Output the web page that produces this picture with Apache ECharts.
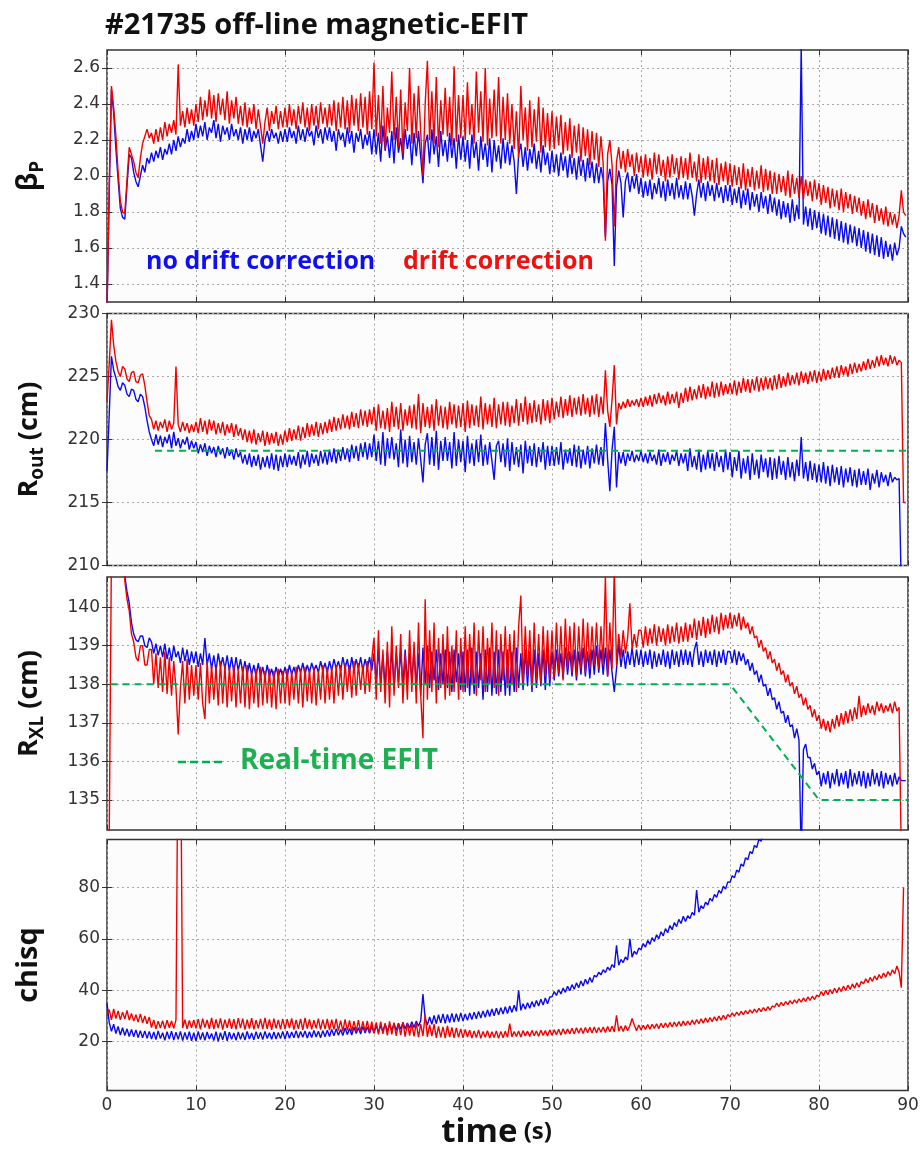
<!DOCTYPE html>
<html><head><meta charset="utf-8">
<script src="https://cdn.jsdelivr.net/npm/echarts@6/dist/echarts.min.js"></script>
<style>html,body{margin:0;padding:0;background:#fff}#c{width:922px;height:1150px}</style>
</head><body><div id="c"></div>
<script>
const dt = 0.25;
const timeTicks = [0, 10, 20, 30, 40, 50, 60, 70, 80, 90];
const bpTicks = [1.4, 1.6, 1.8, 2.0, 2.2, 2.4, 2.6];
const routTicks = [210, 215, 220, 225, 230];
const rxlTicks = [135, 136, 137, 138, 139, 140];
const chiTicks = [20, 40, 60, 80];

// beta_P, no drift correction (blue)
const bpBlue = [
 1.25,1.90,2.48,2.35,2.15,1.98,1.82,1.77,1.76,1.95,2.12,2.10,2.02,1.97,1.94,2.00,2.06,2.02,2.10,2.07,
 2.13,2.08,2.14,2.10,2.16,2.09,2.15,2.12,2.18,2.12,2.20,2.14,2.22,2.16,2.21,2.18,2.26,2.19,2.25,2.20,
 2.29,2.21,2.28,2.22,2.30,2.20,2.27,2.24,2.31,2.21,2.29,2.19,2.28,2.23,2.27,2.20,2.29,2.22,2.26,2.20,
 2.27,2.18,2.26,2.20,2.27,2.19,2.25,2.21,2.26,2.17,2.08,2.20,2.25,2.19,2.26,2.21,2.24,2.18,2.25,2.19,
 2.26,2.19,2.27,2.21,2.25,2.18,2.28,2.20,2.26,2.19,2.27,2.22,2.25,2.17,2.28,2.21,2.26,2.18,2.27,2.20,
 2.27,2.19,2.25,2.14,2.26,2.20,2.24,2.16,2.27,2.18,2.25,2.13,2.24,2.19,2.26,2.15,2.23,2.17,2.25,2.12,
 2.26,2.12,2.24,2.08,2.28,2.14,2.22,2.10,2.25,2.07,2.27,2.13,2.21,2.09,2.26,2.15,2.23,2.06,2.24,2.11,
 2.25,2.10,1.96,2.18,2.23,2.07,2.26,2.12,2.22,2.05,2.25,2.11,2.20,2.08,2.24,2.10,2.21,2.04,2.23,2.09,
 2.22,2.08,2.20,2.04,2.23,2.10,2.19,2.03,2.22,2.09,2.18,2.05,2.21,2.02,2.20,2.08,2.17,2.04,2.21,2.07,
 2.19,2.06,2.17,2.08,1.90,2.12,2.18,2.05,2.16,2.03,2.15,2.07,2.18,2.04,2.14,2.02,2.17,2.06,2.13,2.01,
 2.14,2.02,2.12,2.00,2.13,2.03,2.11,1.99,2.12,2.01,2.10,1.98,2.11,2.00,2.09,1.97,2.10,1.99,2.08,1.96,
 2.07,1.96,2.05,1.98,1.66,1.97,2.04,1.95,1.50,1.94,2.03,1.96,1.77,1.97,2.02,1.91,2.00,1.93,2.01,1.90,
 1.99,1.88,1.97,1.89,1.98,1.87,1.96,1.90,1.99,1.88,1.97,1.86,1.98,1.89,1.96,1.87,1.99,1.88,1.95,1.87,
 1.97,1.87,1.96,1.89,1.78,1.90,1.98,1.88,1.96,1.86,1.97,1.89,1.95,1.86,1.96,1.88,1.94,1.85,1.95,1.86,
 1.95,1.84,1.93,1.85,1.94,1.82,1.92,1.84,1.93,1.81,1.91,1.83,1.90,1.80,1.91,1.82,1.89,1.79,1.90,1.80,
 1.88,1.78,1.87,1.76,1.86,1.77,1.85,1.74,1.87,1.75,1.84,1.76,2.72,1.73,1.83,1.72,1.82,1.70,1.81,1.71,
 1.80,1.68,1.79,1.67,1.78,1.66,1.77,1.65,1.76,1.64,1.75,1.63,1.74,1.62,1.73,1.63,1.72,1.61,1.71,1.60,
 1.70,1.58,1.69,1.57,1.68,1.56,1.67,1.55,1.66,1.54,1.64,1.55,1.62,1.53,1.63,1.56,1.60,1.72,1.68,1.66
];
// beta_P, drift correction (red)
const bpRed = [
 1.25,1.95,2.50,2.38,2.22,2.02,1.86,1.80,1.79,1.98,2.16,2.12,2.08,2.02,1.99,2.10,2.18,2.22,2.26,2.21,
 2.24,2.18,2.26,2.19,2.27,2.20,2.30,2.22,2.29,2.24,2.31,2.23,2.62,2.28,2.36,2.27,2.38,2.29,2.37,2.28,
 2.40,2.30,2.44,2.31,2.42,2.33,2.48,2.32,2.45,2.30,2.46,2.34,2.43,2.31,2.47,2.29,2.42,2.32,2.44,2.29,
 2.39,2.28,2.41,2.27,2.38,2.29,2.40,2.26,2.37,2.28,2.18,2.30,2.38,2.25,2.36,2.29,2.39,2.26,2.36,2.27,
 2.38,2.27,2.40,2.28,2.37,2.26,2.39,2.29,2.41,2.27,2.38,2.25,2.40,2.28,2.39,2.26,2.41,2.29,2.38,2.27,
 2.40,2.28,2.42,2.25,2.41,2.27,2.44,2.26,2.42,2.24,2.45,2.28,2.43,2.25,2.46,2.27,2.44,2.23,2.47,2.26,
 2.63,2.22,2.45,2.18,2.50,2.15,2.38,2.24,2.58,2.20,2.44,2.16,2.48,2.12,2.41,2.25,2.60,2.18,2.46,2.21,
 2.50,2.24,2.00,2.40,2.64,2.20,2.47,2.18,2.55,2.16,2.42,2.23,2.49,2.22,2.44,2.17,2.61,2.19,2.45,2.21,
 2.45,2.20,2.52,2.23,2.40,2.18,2.58,2.24,2.47,2.19,2.60,2.17,2.43,2.21,2.48,2.22,2.55,2.18,2.44,2.20,
 2.46,2.18,2.40,2.15,2.36,2.10,2.50,2.20,2.38,2.14,2.42,2.16,2.37,2.19,2.44,2.13,2.38,2.16,2.35,2.14,
 2.36,2.15,2.33,2.17,2.34,2.12,2.30,2.14,2.32,2.10,2.28,2.13,2.29,2.08,2.27,2.11,2.26,2.06,2.25,2.09,
 2.24,2.05,2.22,2.07,1.64,2.12,2.20,2.06,1.72,2.08,2.16,2.04,2.14,2.02,2.15,2.05,2.12,2.00,2.13,2.02,
 2.11,1.99,2.12,2.00,2.10,1.98,2.13,2.01,2.12,2.00,2.09,1.97,2.11,1.99,2.12,2.01,2.10,1.98,2.11,1.99,
 2.10,1.98,2.13,1.99,2.08,1.97,2.12,1.96,2.10,1.98,2.11,1.97,2.09,1.96,2.10,1.95,2.07,1.97,2.08,1.95,
 2.07,1.94,2.06,1.95,2.05,1.93,2.07,1.92,2.04,1.94,2.05,1.92,2.03,1.93,2.06,1.91,2.04,1.92,2.03,1.90,
 2.02,1.90,2.01,1.91,2.00,1.89,2.03,1.88,2.01,1.90,1.99,1.88,2.00,1.87,1.98,1.89,1.97,1.86,1.98,1.87,
 1.96,1.84,1.95,1.85,1.94,1.82,1.93,1.83,1.92,1.81,1.93,1.80,1.91,1.82,1.90,1.79,1.89,1.80,1.88,1.78,
 1.86,1.76,1.87,1.77,1.85,1.74,1.84,1.75,1.82,1.73,1.83,1.72,1.80,1.73,1.79,1.71,1.78,1.92,1.80,1.78
];
// R_out (cm), no drift correction (blue)
const routBlue = [
 217.5,222.0,226.6,225.5,224.9,224.2,223.9,224.5,224.3,223.6,223.4,224.0,223.9,223.2,223.0,223.6,223.4,222.6,221.5,220.6,
 220.0,219.5,220.4,219.6,220.3,219.4,220.2,219.7,220.4,219.3,220.6,219.5,220.1,219.3,220.0,219.6,220.2,219.2,219.9,219.3,
 219.8,218.9,219.6,219.0,219.7,218.7,219.5,218.9,219.4,218.6,219.5,218.8,219.3,218.5,219.4,218.7,219.2,218.4,219.3,218.6,
 219.0,218.1,218.8,218.0,218.9,217.8,218.7,217.9,218.8,217.6,218.6,217.8,218.7,217.7,218.9,217.6,218.8,217.5,218.7,217.8,
 218.9,217.8,218.8,218.0,218.7,217.9,219.0,217.7,218.8,218.0,219.1,217.8,218.9,218.1,218.8,217.9,219.1,218.1,219.0,218.0,
 219.2,218.2,219.3,218.1,219.2,218.3,219.4,218.4,219.3,218.2,219.6,218.5,219.5,218.3,219.7,218.6,219.8,218.4,219.7,218.6,
 220.4,218.3,219.9,218.0,220.6,217.9,220.1,218.5,220.2,218.4,219.7,217.8,220.8,218.1,220.0,217.8,220.3,218.2,219.8,218.0,
 220.1,218.4,216.6,219.6,220.5,218.0,220.2,217.9,220.7,217.6,219.9,218.3,220.2,218.3,219.8,217.7,220.6,217.9,220.0,218.2,
 219.9,217.4,220.3,218.1,219.7,217.9,220.0,218.2,220.4,217.9,219.6,218.0,219.8,218.3,216.8,219.5,219.9,218.2,219.7,217.8,
 220.1,217.5,219.8,218.0,219.4,217.8,219.6,217.3,219.9,218.1,219.5,217.9,219.7,217.8,219.4,218.2,219.8,217.6,219.5,217.9,
 219.5,217.9,219.4,218.0,219.8,217.6,219.2,218.1,219.3,217.9,219.6,217.8,219.5,217.7,219.2,218.0,219.5,217.7,219.3,218.1,
 219.6,218.0,219.4,217.9,221.3,218.4,215.9,219.2,221.0,216.2,219.0,218.1,219.0,217.9,218.9,218.3,219.1,218.2,218.8,218.3,
 219.1,218.2,218.9,218.1,219.0,218.3,218.8,218.0,219.2,217.9,218.9,218.2,219.0,218.0,218.8,218.3,219.1,217.9,218.9,218.1,
 218.9,217.5,219.3,217.8,218.7,217.6,219.2,217.4,218.8,217.6,219.1,217.7,218.9,217.5,219.0,217.8,218.7,217.4,219.2,217.6,
 219.0,217.0,218.6,217.5,219.1,216.9,218.5,217.3,218.7,216.8,218.9,217.2,218.4,216.9,218.8,217.4,218.5,217.0,218.6,216.8,
 218.5,216.9,218.7,217.2,218.3,216.8,218.6,217.0,218.2,216.7,218.4,217.1,220.2,216.9,218.2,216.7,218.3,216.8,218.1,216.6,
 218.0,216.6,218.2,216.5,217.9,216.3,218.0,216.6,217.8,216.4,217.9,216.2,217.7,216.6,217.8,216.3,217.6,216.2,217.7,216.4,
 217.5,216.4,217.7,216.0,217.3,216.5,217.6,216.2,217.4,216.6,217.2,216.3,217.4,216.6,217.0,216.8,216.9,208.0,208.0,208.0
];
// R_out (cm), drift correction (red)
const routRed = [
 223.0,226.0,229.5,227.5,226.2,225.4,225.0,225.8,225.6,224.8,224.6,225.3,225.4,224.6,224.5,225.1,225.2,224.3,223.0,221.9,
 221.6,220.8,221.5,220.7,221.4,220.9,221.6,220.6,221.5,220.8,221.3,225.8,221.2,220.6,221.4,220.7,221.3,220.5,221.2,220.6,
 221.4,220.5,221.7,220.6,221.5,220.4,221.6,220.7,221.5,220.4,221.3,220.5,221.4,220.3,221.2,220.5,221.3,220.2,221.2,220.3,
 220.9,220.0,220.8,219.8,220.7,219.7,220.8,219.6,220.5,219.8,220.7,219.5,220.6,219.6,220.5,219.7,220.6,219.5,220.4,219.6,
 220.7,219.8,220.9,219.9,220.8,220.0,221.1,219.9,221.0,220.1,221.3,220.2,221.2,220.3,221.4,220.2,221.3,220.4,221.4,220.5,
 221.6,220.6,221.8,220.7,221.7,220.8,222.0,220.9,221.9,220.8,222.2,221.0,222.1,220.9,222.4,221.1,222.3,221.0,222.4,221.2,
 222.6,220.7,222.8,220.9,222.3,220.8,222.5,220.6,223.0,221.0,222.6,220.8,222.9,220.7,222.4,221.1,222.7,220.9,222.8,220.8,
 223.6,220.5,222.9,221.0,222.6,220.9,222.8,220.7,223.2,221.1,222.7,220.9,222.6,220.8,223.0,221.2,222.8,220.9,222.7,221.0,
 222.9,220.6,223.1,220.9,222.8,221.1,222.7,221.0,223.4,220.8,222.9,221.2,222.8,221.0,223.3,220.9,222.8,221.2,223.0,221.1,
 223.0,221.0,222.7,221.3,223.2,221.1,222.9,221.4,223.4,221.2,222.9,221.3,223.1,221.4,222.8,221.2,223.2,221.5,223.1,221.3,
 223.3,221.6,223.0,221.8,223.4,221.7,223.2,221.9,223.5,221.8,223.3,222.0,223.4,221.9,223.6,222.0,223.3,221.8,223.5,222.0,
 223.6,221.8,223.4,222.0,225.5,222.3,221.0,223.2,225.9,221.2,222.9,222.4,223.0,222.5,223.2,222.6,223.1,222.7,223.2,222.6,
 223.3,222.6,223.4,222.7,223.5,222.6,223.6,222.8,223.7,222.9,223.5,222.7,223.8,222.8,223.6,222.9,223.8,222.5,223.7,222.9,
 224.1,223.0,224.2,223.1,224.0,223.2,224.3,223.3,224.4,223.2,224.2,223.4,224.6,223.3,224.5,223.4,224.6,223.5,224.4,223.6,
 224.5,223.6,224.7,223.5,224.6,223.7,224.9,223.8,224.8,223.7,224.8,223.9,225.0,223.8,224.9,223.9,225.0,224.0,224.9,223.9,
 225.1,224.0,225.2,224.1,225.0,224.2,225.3,224.3,225.1,224.4,225.3,224.3,225.4,224.5,225.3,224.4,225.4,224.6,225.5,224.5,
 225.4,224.6,225.6,224.7,225.5,224.8,225.7,224.9,225.8,224.9,225.9,225.1,225.8,225.0,226.0,225.2,226.1,225.3,226.0,225.4,
 226.2,225.5,226.4,225.6,226.3,225.7,226.6,225.8,226.7,225.9,226.5,225.8,226.7,226.0,226.6,225.9,226.3,226.1,215.0,215.0
];
// R_XL (cm), no drift correction (blue)
const rxlBlue = [
 141.5,141.5,141.5,141.5,141.5,141.5,141.5,141.5,140.8,140.4,140.1,139.6,139.3,139.15,139.1,139.25,139.25,139.0,138.95,139.2,
 139.1,138.8,139.05,138.75,139.0,138.7,139.05,138.65,138.95,138.6,139.0,138.7,138.85,138.55,138.95,138.6,138.9,138.5,138.85,138.55,
 138.85,138.45,138.8,138.5,139.2,138.5,138.8,138.4,138.75,138.35,138.8,138.45,138.7,138.4,138.75,138.35,138.7,138.3,138.7,138.35,
 138.65,138.3,138.6,138.25,138.55,138.25,138.5,138.2,138.55,138.2,138.45,138.15,138.5,138.2,138.4,138.15,138.45,138.2,138.4,138.2,
 138.45,138.2,138.5,138.25,138.45,138.2,138.5,138.3,138.55,138.25,138.5,138.3,138.55,138.35,138.5,138.3,138.6,138.35,138.55,138.3,
 138.6,138.35,138.65,138.4,138.6,138.35,138.7,138.4,138.65,138.3,138.7,138.35,138.65,138.4,138.7,138.35,138.65,138.4,138.7,138.35,
 138.8,138.1,138.9,138.0,138.75,137.95,138.85,138.1,138.9,137.9,138.8,138.05,138.85,137.95,138.9,138.0,138.8,138.1,138.9,137.95,
 138.8,137.7,138.95,138.0,139.0,137.9,138.85,138.1,138.9,137.85,138.8,138.0,138.9,137.9,138.85,137.8,138.9,138.05,138.8,137.85,
 138.85,137.8,138.9,137.7,138.95,137.75,138.85,137.9,138.8,137.6,138.9,137.8,138.95,137.7,138.85,137.75,138.9,137.8,138.85,137.7,
 138.9,137.7,138.85,137.8,138.95,137.9,138.8,137.85,138.9,137.95,138.85,137.8,138.9,137.9,138.8,137.95,138.9,137.85,138.95,137.95,
 138.85,138.1,138.9,138.2,138.8,138.15,138.95,138.25,138.85,138.2,138.9,138.1,138.85,138.25,138.95,138.2,138.85,138.15,138.9,138.25,
 139.0,138.3,138.9,138.25,138.95,138.2,138.9,138.3,137.8,138.4,139.05,138.45,138.9,138.4,138.85,138.5,138.95,138.45,138.9,138.5,
 138.9,138.45,138.85,138.5,138.9,138.4,138.85,138.45,138.8,138.5,138.9,138.45,138.85,138.4,138.9,138.5,138.85,138.45,138.9,138.5,
 138.9,138.5,138.85,138.45,138.9,139.1,138.5,138.85,138.45,138.9,138.55,138.85,138.5,138.9,138.45,138.85,138.55,138.9,138.5,138.85,
 138.85,138.55,138.9,138.5,138.85,138.6,138.8,138.5,138.65,138.35,138.55,138.25,138.35,138.05,138.25,137.95,138.0,137.7,137.9,137.6,
 137.65,137.35,137.55,137.25,137.3,137.0,137.2,136.9,136.95,136.6,136.85,136.55,133.5,136.3,136.45,136.1,136.1,135.8,135.95,135.65,
 135.75,135.35,135.7,135.4,135.75,135.3,135.7,135.4,135.8,135.35,135.7,135.4,135.75,135.3,135.8,135.35,135.7,135.4,135.75,135.35,
 135.75,135.3,135.7,135.35,135.8,135.4,135.7,135.35,135.75,135.3,135.7,135.4,135.65,135.35,135.7,135.4,135.6,135.5,135.5,135.5
];
// R_XL (cm), drift correction (red)
const rxlRed = [
 134.0,134.0,141.5,141.5,141.5,141.5,141.5,141.5,140.7,140.2,139.9,139.3,139.1,138.7,138.6,139.0,139.0,138.5,138.5,138.9,
 138.9,138.0,138.8,137.9,138.7,137.8,138.85,137.75,138.7,137.7,138.6,137.9,136.7,137.9,138.6,137.5,138.65,137.6,138.5,137.7,
 138.5,137.6,138.55,137.5,137.1,138.6,137.5,138.5,137.6,138.45,137.45,138.6,137.5,138.5,137.4,138.45,137.55,138.5,137.4,138.4,
 137.5,138.45,137.4,138.5,137.35,138.35,137.5,138.4,137.4,138.45,137.45,138.35,137.5,138.4,137.4,138.35,137.35,138.4,137.5,138.35,
 137.5,138.4,137.45,138.35,137.6,138.45,137.5,138.4,137.4,138.45,137.55,138.4,137.5,138.45,137.45,138.35,137.6,138.5,137.5,138.45,
 137.6,138.45,137.5,138.5,137.7,138.5,137.6,138.55,137.8,138.5,137.65,138.6,137.7,138.55,137.85,138.5,137.75,138.6,137.8,138.65,
 139.2,137.6,139.4,137.8,138.9,137.5,139.1,137.4,139.5,137.7,139.0,137.9,139.3,137.5,138.8,137.6,139.4,137.8,139.1,137.5,
 139.6,137.7,136.6,140.2,137.6,139.4,137.8,139.6,137.5,139.2,137.9,139.3,137.6,139.5,137.7,139.0,137.8,139.4,137.6,139.2,
 137.8,139.5,137.9,139.3,138.0,139.6,137.7,139.4,138.1,139.5,137.8,139.2,138.0,139.6,137.9,139.4,137.7,139.3,138.1,139.5,
 137.9,139.3,138.0,139.4,137.8,139.5,140.3,138.0,139.5,138.2,139.4,137.9,139.6,138.1,139.3,138.0,139.5,138.2,139.4,138.1,
 139.4,138.2,139.6,138.3,139.5,138.1,139.7,138.4,139.5,138.3,139.6,138.2,139.5,138.4,139.7,138.3,139.6,138.4,139.5,138.5,
 139.6,138.4,139.5,138.5,140.8,138.2,139.6,138.4,141.0,138.5,139.3,138.7,139.4,138.8,139.2,140.1,138.9,139.3,138.95,139.4,
 139.4,138.95,139.5,139.0,139.45,139.05,139.55,139.0,139.5,139.1,139.45,139.0,139.55,139.05,139.5,139.1,139.6,139.05,139.5,139.1,
 139.6,139.1,139.55,139.2,139.7,139.15,139.65,139.25,139.75,139.2,139.7,139.3,139.8,139.35,139.75,139.3,139.85,139.4,139.8,139.45,
 139.85,139.45,139.8,139.5,139.85,139.4,139.75,139.45,139.6,139.3,139.5,139.2,139.25,138.95,139.15,138.85,138.95,138.65,138.85,138.55,
 138.65,138.35,138.55,138.25,138.35,138.05,138.25,137.95,138.05,137.75,137.95,137.65,137.75,137.45,137.65,137.35,137.45,137.15,137.35,137.05,
 137.2,136.85,137.1,136.8,137.05,136.75,137.1,136.85,137.2,136.9,137.25,136.95,137.3,137.0,137.35,137.05,137.4,137.1,137.7,137.15,
 137.45,137.2,137.5,137.25,137.45,137.2,137.55,137.3,137.5,137.25,137.45,137.3,137.5,137.25,137.55,137.3,137.4,133.5,133.5,133.5
];
// chisq, no drift correction (blue)
const chiBlue = [
 35.0,27.5,24.0,26.8,23.2,25.9,22.6,25.4,22.4,25.0,22.0,24.8,21.9,24.6,21.6,24.3,21.5,24.2,21.3,24.0,
 21.0,23.8,20.8,24.2,21.2,23.5,20.5,23.9,21.0,24.1,20.6,23.7,20.9,24.0,20.4,23.6,20.8,23.9,20.3,23.5,
 20.2,24.0,20.8,23.6,20.5,23.8,21.0,23.2,20.4,23.9,20.1,23.5,20.7,24.1,20.3,23.7,20.9,23.4,20.5,23.8,
 20.9,23.5,20.6,24.0,21.0,23.4,20.7,23.9,21.1,23.6,20.8,24.0,21.2,23.5,20.9,23.8,21.0,23.6,21.2,24.0,
 21.0,24.1,21.3,23.8,21.5,24.3,21.4,24.0,21.7,24.2,21.4,23.9,21.6,24.4,21.8,24.1,21.5,24.3,21.9,24.5,
 22.0,24.8,22.3,25.0,22.5,24.7,22.4,25.3,22.8,25.1,22.6,25.6,23.2,25.4,23.0,25.9,23.4,25.7,23.3,26.0,
 23.4,26.3,23.8,26.1,24.0,26.8,24.2,26.5,24.5,27.0,24.4,27.2,24.8,27.5,25.0,27.3,25.2,27.8,25.5,28.0,
 26.0,28.2,38.5,29.0,26.5,29.6,26.8,30.2,27.0,30.5,27.3,30.8,27.1,30.6,27.4,31.0,27.6,30.9,27.8,31.2,
 28.0,30.8,28.3,31.2,28.6,31.5,28.9,31.8,29.2,32.0,29.5,32.4,29.8,32.7,30.1,33.0,30.5,33.2,30.8,33.6,
 31.0,33.9,31.4,34.2,31.8,40.0,32.2,34.8,32.6,35.2,33.0,35.6,33.5,36.0,33.9,36.5,34.3,37.0,34.8,37.4,
 37.5,39.5,38.0,40.2,38.6,40.9,39.2,41.6,39.8,42.2,40.4,42.9,41.0,43.6,41.7,44.3,42.4,45.0,43.1,45.8,
 45.2,47.0,46.0,48.0,46.9,49.0,47.8,50.0,48.8,57.5,49.8,52.0,50.8,53.0,51.8,60.0,52.9,55.2,54.0,56.4,
 55.8,58.2,56.8,59.4,57.9,60.5,59.0,61.6,60.1,62.8,61.2,64.0,62.4,65.2,63.6,66.4,64.8,67.6,66.0,68.8,
 66.8,69.0,67.9,70.3,69.2,79.0,70.4,72.9,71.8,74.3,73.2,75.8,74.7,77.3,76.2,78.9,77.8,80.5,79.4,82.2,
 82.0,84.6,83.8,86.8,86.0,89.2,88.3,91.6,90.8,94.0,93.2,96.4,95.6,98.8,98.0,101.2,100.6,103.8,103.2,106.4,
 106,108,110,112,114,116,118,120,122,124,126,128,130,132,134,136,138,140,142,144,
 146,148,150,152,154,156,158,160,162,164,166,168,170,172,174,176,178,180,182,184,
 186,188,190,192,194,196,198,200,202,204,206,208,210,212,214,216,218,220,222,224
];
// chisq, drift correction (red); null = end of trace
const chiRed = [
 30.0,32.5,28.5,32.8,29.0,32.0,28.5,31.5,28.8,32.2,28.4,31.0,28.0,30.5,27.6,30.8,27.3,30.0,27.0,29.6,
 25.5,28.5,25.0,28.0,25.3,28.2,25.0,28.4,25.4,28.1,25.2,28.5,150,150,25.3,28.6,25.0,28.3,25.4,28.5,
 25.2,28.8,24.8,29.0,25.5,28.5,25.0,29.3,24.9,28.7,25.3,29.1,24.7,28.6,25.4,29.0,25.0,28.8,24.8,29.2,
 25.3,29.0,24.7,28.6,25.1,29.2,24.8,28.4,25.2,28.9,24.9,29.3,25.0,28.7,24.6,29.0,25.2,28.5,24.8,28.9,
 24.9,28.8,25.3,29.1,24.7,28.5,25.0,28.9,24.6,29.3,25.1,28.7,24.8,28.4,25.2,29.0,24.7,28.6,24.9,28.9,
 24.5,28.6,24.8,28.9,24.3,28.2,24.0,28.7,24.4,28.3,23.9,28.0,24.1,28.4,23.8,27.9,24.0,28.1,23.6,27.8,
 23.2,27.5,22.8,27.8,23.0,27.2,22.5,27.9,22.8,27.4,22.3,27.0,22.6,27.6,22.0,27.2,22.4,26.9,22.1,27.3,
 21.8,26.8,22.2,30.5,21.9,26.5,22.2,26.8,21.5,26.0,21.7,25.8,21.4,26.2,21.8,25.6,21.5,25.4,21.7,25.0,
 21.5,24.8,21.8,24.5,21.4,24.2,21.6,24.6,21.3,24.0,21.7,24.3,21.4,23.9,21.6,24.2,21.3,24.0,21.5,24.1,
 21.7,27.0,21.9,24.0,22.0,24.2,21.8,24.3,22.2,24.1,22.0,24.4,22.3,24.2,22.1,24.5,22.4,24.3,22.2,24.6,
 22.5,24.6,22.7,24.8,22.6,25.0,22.9,24.9,23.1,25.2,23.0,25.4,23.3,25.3,23.2,25.5,23.5,25.6,23.4,25.7,
 23.5,25.5,23.7,25.7,23.6,25.9,23.9,26.0,23.8,30.3,24.1,26.1,24.0,26.3,24.3,26.2,29.0,26.4,24.3,26.5,
 24.6,26.4,24.8,26.7,24.9,26.8,25.2,27.0,25.1,27.2,25.4,27.3,25.5,27.5,25.7,27.6,25.9,27.8,26.0,28.0,
 26.3,28.0,26.5,28.4,26.7,28.6,27.0,28.9,27.2,29.2,27.5,29.4,27.8,29.7,28.1,30.0,28.4,30.3,28.7,30.6,
 29.6,31.2,29.9,31.5,30.2,31.8,30.5,32.1,30.8,32.4,31.1,32.7,31.4,33.0,31.7,33.3,32.0,33.6,32.3,33.9,
 33.4,35.0,33.7,35.3,34.0,35.6,34.4,36.0,34.7,36.3,35.0,36.7,35.4,37.0,35.7,37.4,36.1,37.7,36.4,38.1,
 37.5,39.5,37.9,40.0,38.3,40.3,38.7,40.8,39.1,41.1,39.5,41.6,39.9,42.0,40.3,42.5,40.8,42.9,41.2,43.4,
 42.5,44.5,43.0,45.0,43.5,45.6,44.0,46.1,44.6,46.7,45.1,47.3,45.8,48.0,46.4,49.5,47.0,41.0,80.0,null
];
// Real-time EFIT reference (green dashed)
const rtRoutT = [5.4, 90];
const rtRoutV = [219.1, 219.1];
const rtRxlT = [0.4, 70, 80, 90];
const rtRxlV = [138, 138, 135, 135];

const BLUE = '#0a0af0', RED = '#f20000', GREEN = '#00b050';
const pairs = arr => arr.map((v, i) => [i * dt, v]);
const zip = (t, v) => t.map((x, i) => [x, v[i]]);

const gridPos = [
  {top: 50, height: 252},
  {top: 313.5, height: 252},
  {top: 577, height: 253},
  {top: 839.5, height: 253.5}
];
const yRange = [[1.3, 2.7, bpTicks, 1], [210, 230, routTicks, 0], [134.22, 140.78, rxlTicks, 0], [1, 98.7, chiTicks, 0]];
const grids = gridPos.map(g => ({
  left: 107, width: 801, top: g.top, height: g.height,
  show: true, backgroundColor: '#fcfcfc', borderColor: '#333', borderWidth: 1.5
}));

const splitStyle = {show: true, lineStyle: {color: '#a8a8a8', type: [2, 3], width: 1}};
const tickStyle = {show: true, inside: true, length: 5, lineStyle: {color: '#333'}};
const xAxes = grids.map((g, i) => ({
  gridIndex: i, type: 'value', min: timeTicks[0], max: timeTicks[timeTicks.length - 1], interval: 10, position: 'bottom',
  axisLine: {show: false},
  axisTick: tickStyle,
  axisLabel: {show: i === 3, fontFamily: 'DejaVu Sans', fontSize: 17, color: '#333', margin: 7},
  splitLine: splitStyle,
  name: i === 3 ? '{t|time}{u| (s)}' : '',
  nameLocation: 'middle', nameGap: 22,
  nameTextStyle: {rich: {
    t: {fontFamily: 'Open Sans', fontWeight: 'bold', fontSize: 33, color: '#111', lineHeight: 40},
    u: {fontFamily: 'Open Sans', fontWeight: 'bold', fontSize: 24, color: '#111', lineHeight: 40, padding: [0, 22, 0, 0]}
  }}
}));
// mirrored ticks on the top edge
grids.forEach((g, i) => xAxes.push({
  gridIndex: i, type: 'value', min: 0, max: 90, interval: 10, position: 'top',
  axisLine: {show: false}, axisTick: tickStyle, axisLabel: {show: false}, splitLine: {show: false}
}));

function nameRich(big) {
  return {
    m: {fontFamily: 'Open Sans', fontWeight: 'bold', fontSize: big, color: '#111', lineHeight: 36},
    s: {fontFamily: 'Open Sans', fontWeight: 'bold', fontSize: 19, color: '#111', lineHeight: 14, verticalAlign: 'bottom'}
  };
}
function yAx(gi, name, size) {
  const r = yRange[gi];
  return {
    gridIndex: gi, type: 'value', min: r[0], max: r[1], position: 'left',
    axisLine: {show: false},
    axisTick: Object.assign({customValues: r[2]}, tickStyle),
    axisLabel: {customValues: r[2], formatter: v => Number(v).toFixed(r[3]),
      fontFamily: 'DejaVu Sans', fontSize: 17, color: '#333', margin: 7},
    splitLine: splitStyle,
    name: name, nameLocation: 'middle', nameRotate: 90, nameGap: 60,
    nameTextStyle: {rich: nameRich(size)}
  };
}
const yAxes = [
  yAx(0, '{m|β}{s|P}', 28),
  yAx(1, '{m|R}{s|out}{m| (cm)}', 27),
  yAx(2, '{m|R}{s|XL}{m| (cm)}', 27),
  yAx(3, '{m|chisq}', 29)
];
// mirrored ticks on the right edge
yRange.forEach((r, i) => yAxes.push({
  gridIndex: i, type: 'value', min: r[0], max: r[1], position: 'right',
  axisLine: {show: false}, axisTick: Object.assign({customValues: r[2]}, tickStyle),
  axisLabel: {show: false, customValues: r[2]}, splitLine: {show: false}
}));

function ln(gi, data, color, z) {
  return {type: 'line', xAxisIndex: gi, yAxisIndex: gi, data: data, symbol: 'none',
    showSymbol: false, clip: true, connectNulls: false, z: z, animation: false,
    lineStyle: {color: color, width: 1.4}, itemStyle: {color: color}};
}
function dash(gi, data) {
  return {type: 'line', xAxisIndex: gi, yAxisIndex: gi, data: data, symbol: 'none',
    clip: true, z: 5, animation: false,
    lineStyle: {color: GREEN, width: 2, type: [7, 5]}, itemStyle: {color: GREEN}};
}

const series = [
  ln(0, pairs(bpBlue), BLUE, 2), ln(0, pairs(bpRed), RED, 3),
  ln(1, pairs(routBlue), BLUE, 2), ln(1, pairs(routRed), RED, 3), dash(1, zip(rtRoutT, rtRoutV)),
  ln(2, pairs(rxlBlue), BLUE, 2), ln(2, pairs(rxlRed), RED, 3), dash(2, zip(rtRxlT, rtRxlV)),
  ln(3, pairs(chiBlue), BLUE, 2), ln(3, pairs(chiRed), RED, 3)
];

const chart = echarts.init(document.getElementById('c'), null, {renderer: 'canvas'});
chart.setOption({
  animation: false,
  backgroundColor: '#fff',
  grid: grids, xAxis: xAxes, yAxis: yAxes, series: series,
  graphic: [
    {type: 'text', x: 105, y: 26, z: 10, style: {text: '#21735 off-line magnetic-EFIT',
      font: 'bold 29px "Open Sans"', fill: '#111', verticalAlign: 'middle'}},
    {type: 'text', x: 146, y: 261.5, z: 10, style: {text: 'no drift correction',
      font: 'bold 25px "Open Sans"', fill: '#1010ee', verticalAlign: 'middle'}},
    {type: 'text', x: 403, y: 261.5, z: 10, style: {text: 'drift correction',
      font: 'bold 25px "Open Sans"', fill: '#f01010', verticalAlign: 'middle'}},
    {type: 'line', z: 10, shape: {x1: 178, y1: 762, x2: 222, y2: 762},
      style: {stroke: GREEN, lineWidth: 2.5, lineDash: [8, 4]}},
    {type: 'text', x: 240, y: 761.5, z: 10, style: {text: 'Real-time EFIT',
      font: 'bold 28px "Open Sans"', fill: '#1db050', verticalAlign: 'middle'}}
  ]
});
</script></body></html>
